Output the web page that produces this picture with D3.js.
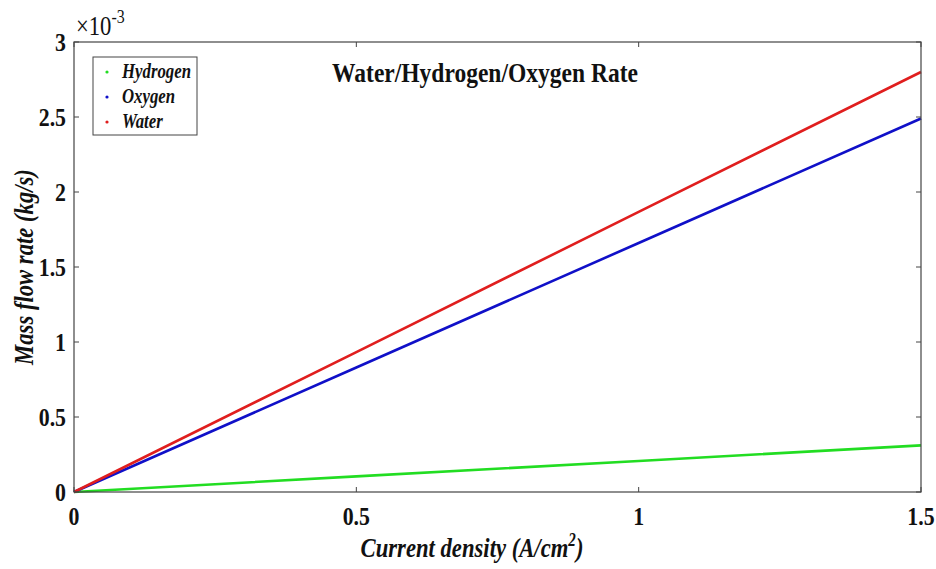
<!DOCTYPE html>
<meta charset="utf-8">
<style>
    body { margin: 0; background: #fff; }
    svg { position: absolute; top: 0; left: 0; }
    text { font-family: "Liberation Serif", "Times New Roman", serif; fill: #111; }
</style>
<body>
<script src="https://cdnjs.cloudflare.com/ajax/libs/d3/7.8.5/d3.min.js"></script>
<script>
    // current density (A/cm^2)
    var current = [0, 0.5, 1, 1.5];
    // mass flow rates, in units of 1e-3 kg/s
    var hydrogen = [0, 0.104, 0.207, 0.311];
    var oxygen = [0, 0.83, 1.66, 2.49];
    var water = [0, 0.933, 1.867, 2.8];
    var seriesNames = ["Hydrogen", "Oxygen", "Water"];
    var seriesColors = ["#22dd22", "#1010c8", "#e01e1e"];
    var xTicks = [0, 0.5, 1, 1.5];
    var yTicks = [0, 0.5, 1, 1.5, 2, 2.5, 3];

    var width = 936, height = 569;
    var margin = {top: 42, right: 15, bottom: 77, left: 74};
    var sx = 0.84; // the reference text is narrow

    var svg = d3.select("body").append("svg")
        .attr("width", width)
        .attr("height", height);

    var x = d3.scaleLinear().domain([0, 1.5]).range([margin.left, width - margin.right]);
    var y = d3.scaleLinear().domain([0, 3]).range([height - margin.bottom, margin.top]);

    // squeezed text helper
    function label(g, tx, ty, str, size, anchor, style, weight) {
        return g.append("text")
            .attr("transform", "translate(" + tx + "," + ty + ") scale(" + sx + ",1)")
            .attr("text-anchor", anchor)
            .attr("font-size", size)
            .attr("font-weight", weight || "bold")
            .attr("font-style", style || "normal")
            .text(str);
    }

    // lines
    var data = [hydrogen, oxygen, water];
    var line = d3.line()
        .x(function (d, i) { return x(current[i]); })
        .y(function (d) { return y(d); });
    svg.append("g").selectAll("path")
        .data(data)
        .enter().append("path")
        .attr("d", line)
        .attr("fill", "none")
        .attr("stroke", function (d, i) { return seriesColors[i]; })
        .attr("stroke-width", 2.6);

    // box and ticks
    var axisColor = "#444";
    svg.append("rect")
        .attr("x", x(0)).attr("y", y(3))
        .attr("width", x(1.5) - x(0)).attr("height", y(0) - y(3))
        .attr("fill", "none").attr("stroke", axisColor).attr("stroke-width", 1.2);

    var tick = svg.append("g").attr("stroke", axisColor).attr("stroke-width", 1);
    xTicks.forEach(function (t) {
        tick.append("line").attr("x1", x(t)).attr("x2", x(t)).attr("y1", y(0)).attr("y2", y(0) - 5);
        tick.append("line").attr("x1", x(t)).attr("x2", x(t)).attr("y1", y(3)).attr("y2", y(3) + 5);
    });
    yTicks.forEach(function (t) {
        tick.append("line").attr("x1", x(0)).attr("x2", x(0) + 5).attr("y1", y(t)).attr("y2", y(t));
        tick.append("line").attr("x1", x(1.5)).attr("x2", x(1.5) - 5).attr("y1", y(t)).attr("y2", y(t));
    });

    var labels = svg.append("g");
    xTicks.forEach(function (t) {
        label(labels, x(t), y(0) + 33, d3.format("")(t), 26, "middle");
    });
    yTicks.forEach(function (t) {
        label(labels, x(0) - 8, y(t) + 9, d3.format("")(t), 26, "end");
    });

    // exponent
    var ex = labels.append("text")
        .attr("transform", "translate(" + (x(0) + 2) + "," + 35 + ") scale(" + sx + ",1)")
        .attr("font-size", 27);
    ex.append("tspan").text("\u00d710");
    ex.append("tspan").attr("dy", -12).attr("font-size", 19).text("-3");

    // title
    label(labels, 485, 82, "Water/Hydrogen/Oxygen Rate", 28, "middle");

    // axis titles
    var xt = labels.append("text")
        .attr("transform", "translate(472,557) scale(" + sx + ",1)")
        .attr("text-anchor", "middle")
        .attr("font-size", 27).attr("font-weight", "bold").attr("font-style", "italic");
    xt.append("tspan").text("Current density (A/cm");
    xt.append("tspan").attr("dy", -11).attr("font-size", 18).text("2");
    xt.append("tspan").attr("dy", 11).text(")");

    labels.append("text")
        .attr("transform", "translate(33," + ((y(0) + y(3)) / 2) + ") rotate(-90) scale(" + sx + ",1)")
        .attr("text-anchor", "middle")
        .attr("font-size", 27).attr("font-weight", "bold").attr("font-style", "italic")
        .text("Mass flow rate (kg/s)");

    // legend
    var legend = svg.append("g");
    legend.append("rect")
        .attr("x", 93).attr("y", 57).attr("width", 104).attr("height", 78)
        .attr("fill", "#fff").attr("stroke", axisColor).attr("stroke-width", 1);
    seriesNames.forEach(function (name, i) {
        var ly = 72 + i * 25;
        legend.append("circle")
            .attr("cx", 107).attr("cy", ly).attr("r", 1.6)
            .attr("fill", seriesColors[i]);
        label(legend, 122, ly + 6, name, 20, "start", "italic");
    });
</script>
</body>
